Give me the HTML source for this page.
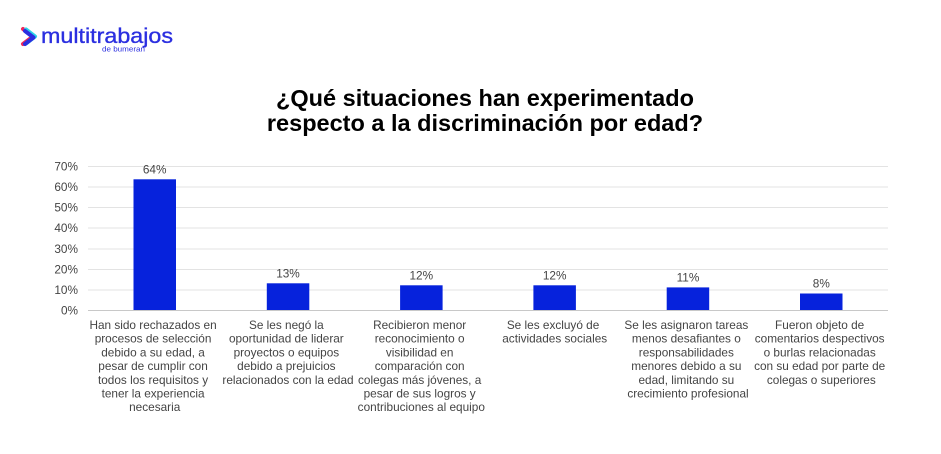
<!DOCTYPE html>
<html>
<head>
<meta charset="utf-8">
<style>
  html, body { margin:0; padding:0; background:#ffffff; }
  body { width:941px; height:454px; overflow:hidden; }
  svg { display:block; }
  text { font-family: "Liberation Sans", Arial, sans-serif; }
</style>
</head>
<body>
<svg width="941" height="454" viewBox="0 0 941 454" xmlns="http://www.w3.org/2000/svg">
  <rect x="0" y="0" width="941" height="454" fill="#ffffff"/>

  <!-- Logo -->
  <g>
    <path d="M23 29 L33 36.5 L23 44" fill="none" stroke="#f0245a" stroke-width="4" stroke-linejoin="round" stroke-linecap="round"/>
    <path d="M26 29.5 L35 36.5 L26 43.5" fill="none" stroke="#2ad4e8" stroke-width="4" stroke-linejoin="round" stroke-linecap="round"/>
    <path d="M25 31 L33.5 37.5 L25 44" fill="none" stroke="#2b2ee0" stroke-width="4" stroke-linejoin="round" stroke-linecap="round"/>
    <text x="41" y="43" font-size="21" fill="#2b2fe0" stroke="#2b2fe0" stroke-width="0.35" textLength="132" lengthAdjust="spacingAndGlyphs">multitrabajos</text>
    <text x="102" y="51.5" font-size="7" fill="#2b2fe0" textLength="43" lengthAdjust="spacingAndGlyphs">de bumeran</text>
  </g>

  <!-- Title -->
  <g font-weight="bold" font-size="23.5" fill="#000000" text-anchor="middle">
    <text x="485" y="106">¿Qué situaciones han experimentado</text>
    <text x="485" y="131">respecto a la discriminación por edad?</text>
  </g>

  <!-- Gridlines -->
  <g stroke="#e3e3e3" stroke-width="1">
    <line x1="88" y1="166.5" x2="888" y2="166.5"/>
    <line x1="88" y1="187" x2="888" y2="187"/>
    <line x1="88" y1="207.5" x2="888" y2="207.5"/>
    <line x1="88" y1="228" x2="888" y2="228"/>
    <line x1="88" y1="249" x2="888" y2="249"/>
    <line x1="88" y1="269.5" x2="888" y2="269.5"/>
    <line x1="88" y1="290" x2="888" y2="290"/>
  </g>
  <line x1="88" y1="310.5" x2="888" y2="310.5" stroke="#c8c8c8" stroke-width="1"/>

  <!-- Y tick labels -->
  <g font-size="11.8" fill="#444444" text-anchor="end">
    <text x="78" y="170.5">70%</text>
    <text x="78" y="191">60%</text>
    <text x="78" y="211.5">50%</text>
    <text x="78" y="232">40%</text>
    <text x="78" y="253">30%</text>
    <text x="78" y="273.5">20%</text>
    <text x="78" y="294">10%</text>
    <text x="78" y="314.5">0%</text>
  </g>

  <!-- Bars -->
  <g fill="#0622dc">
    <rect x="133.5" y="179.3" width="42.5" height="130.7"/>
    <rect x="266.8" y="283.3" width="42.5" height="26.7"/>
    <rect x="400.1" y="285.3" width="42.5" height="24.7"/>
    <rect x="533.4" y="285.3" width="42.5" height="24.7"/>
    <rect x="666.7" y="287.4" width="42.5" height="22.6"/>
    <rect x="800" y="293.5" width="42.5" height="16.5"/>
  </g>

  <!-- Value labels -->
  <g font-size="11.8" fill="#444444" text-anchor="middle">
    <text x="154.7" y="173.5">64%</text>
    <text x="288" y="277.5">13%</text>
    <text x="421.3" y="279.5">12%</text>
    <text x="554.7" y="279.5">12%</text>
    <text x="688" y="281.5">11%</text>
    <text x="821.3" y="287.5">8%</text>
  </g>

  <!-- Category labels -->
  <g font-size="11.8" fill="#444444" text-anchor="middle">
    <text x="154.7" y="329">
      <tspan x="154.7" dy="0">Han sido rechazados en</tspan>
      <tspan x="154.7" dy="13.7">procesos de selección</tspan>
      <tspan x="154.7" dy="13.7">debido a su edad, a</tspan>
      <tspan x="154.7" dy="13.7">pesar de cumplir con</tspan>
      <tspan x="154.7" dy="13.7">todos los requisitos y</tspan>
      <tspan x="154.7" dy="13.7">tener la experiencia</tspan>
      <tspan x="154.7" dy="13.7">necesaria</tspan>
    </text>
    <text x="288" y="329">
      <tspan x="288" dy="0">Se les negó la</tspan>
      <tspan x="288" dy="13.7">oportunidad de liderar</tspan>
      <tspan x="288" dy="13.7">proyectos o equipos</tspan>
      <tspan x="288" dy="13.7">debido a prejuicios</tspan>
      <tspan x="288" dy="13.7">relacionados con la edad</tspan>
    </text>
    <text x="421.3" y="329">
      <tspan x="421.3" dy="0">Recibieron menor</tspan>
      <tspan x="421.3" dy="13.7">reconocimiento o</tspan>
      <tspan x="421.3" dy="13.7">visibilidad en</tspan>
      <tspan x="421.3" dy="13.7">comparación con</tspan>
      <tspan x="421.3" dy="13.7">colegas más jóvenes, a</tspan>
      <tspan x="421.3" dy="13.7">pesar de sus logros y</tspan>
      <tspan x="421.3" dy="13.7">contribuciones al equipo</tspan>
    </text>
    <text x="554.7" y="329">
      <tspan x="554.7" dy="0">Se les excluyó de</tspan>
      <tspan x="554.7" dy="13.7">actividades sociales</tspan>
    </text>
    <text x="688" y="329">
      <tspan x="688" dy="0">Se les asignaron tareas</tspan>
      <tspan x="688" dy="13.7">menos desafiantes o</tspan>
      <tspan x="688" dy="13.7">responsabilidades</tspan>
      <tspan x="688" dy="13.7">menores debido a su</tspan>
      <tspan x="688" dy="13.7">edad, limitando su</tspan>
      <tspan x="688" dy="13.7">crecimiento profesional</tspan>
    </text>
    <text x="821.3" y="329">
      <tspan x="821.3" dy="0">Fueron objeto de</tspan>
      <tspan x="821.3" dy="13.7">comentarios despectivos</tspan>
      <tspan x="821.3" dy="13.7">o burlas relacionadas</tspan>
      <tspan x="821.3" dy="13.7">con su edad por parte de</tspan>
      <tspan x="821.3" dy="13.7">colegas o superiores</tspan>
    </text>
  </g>
</svg>
</body>
</html>
